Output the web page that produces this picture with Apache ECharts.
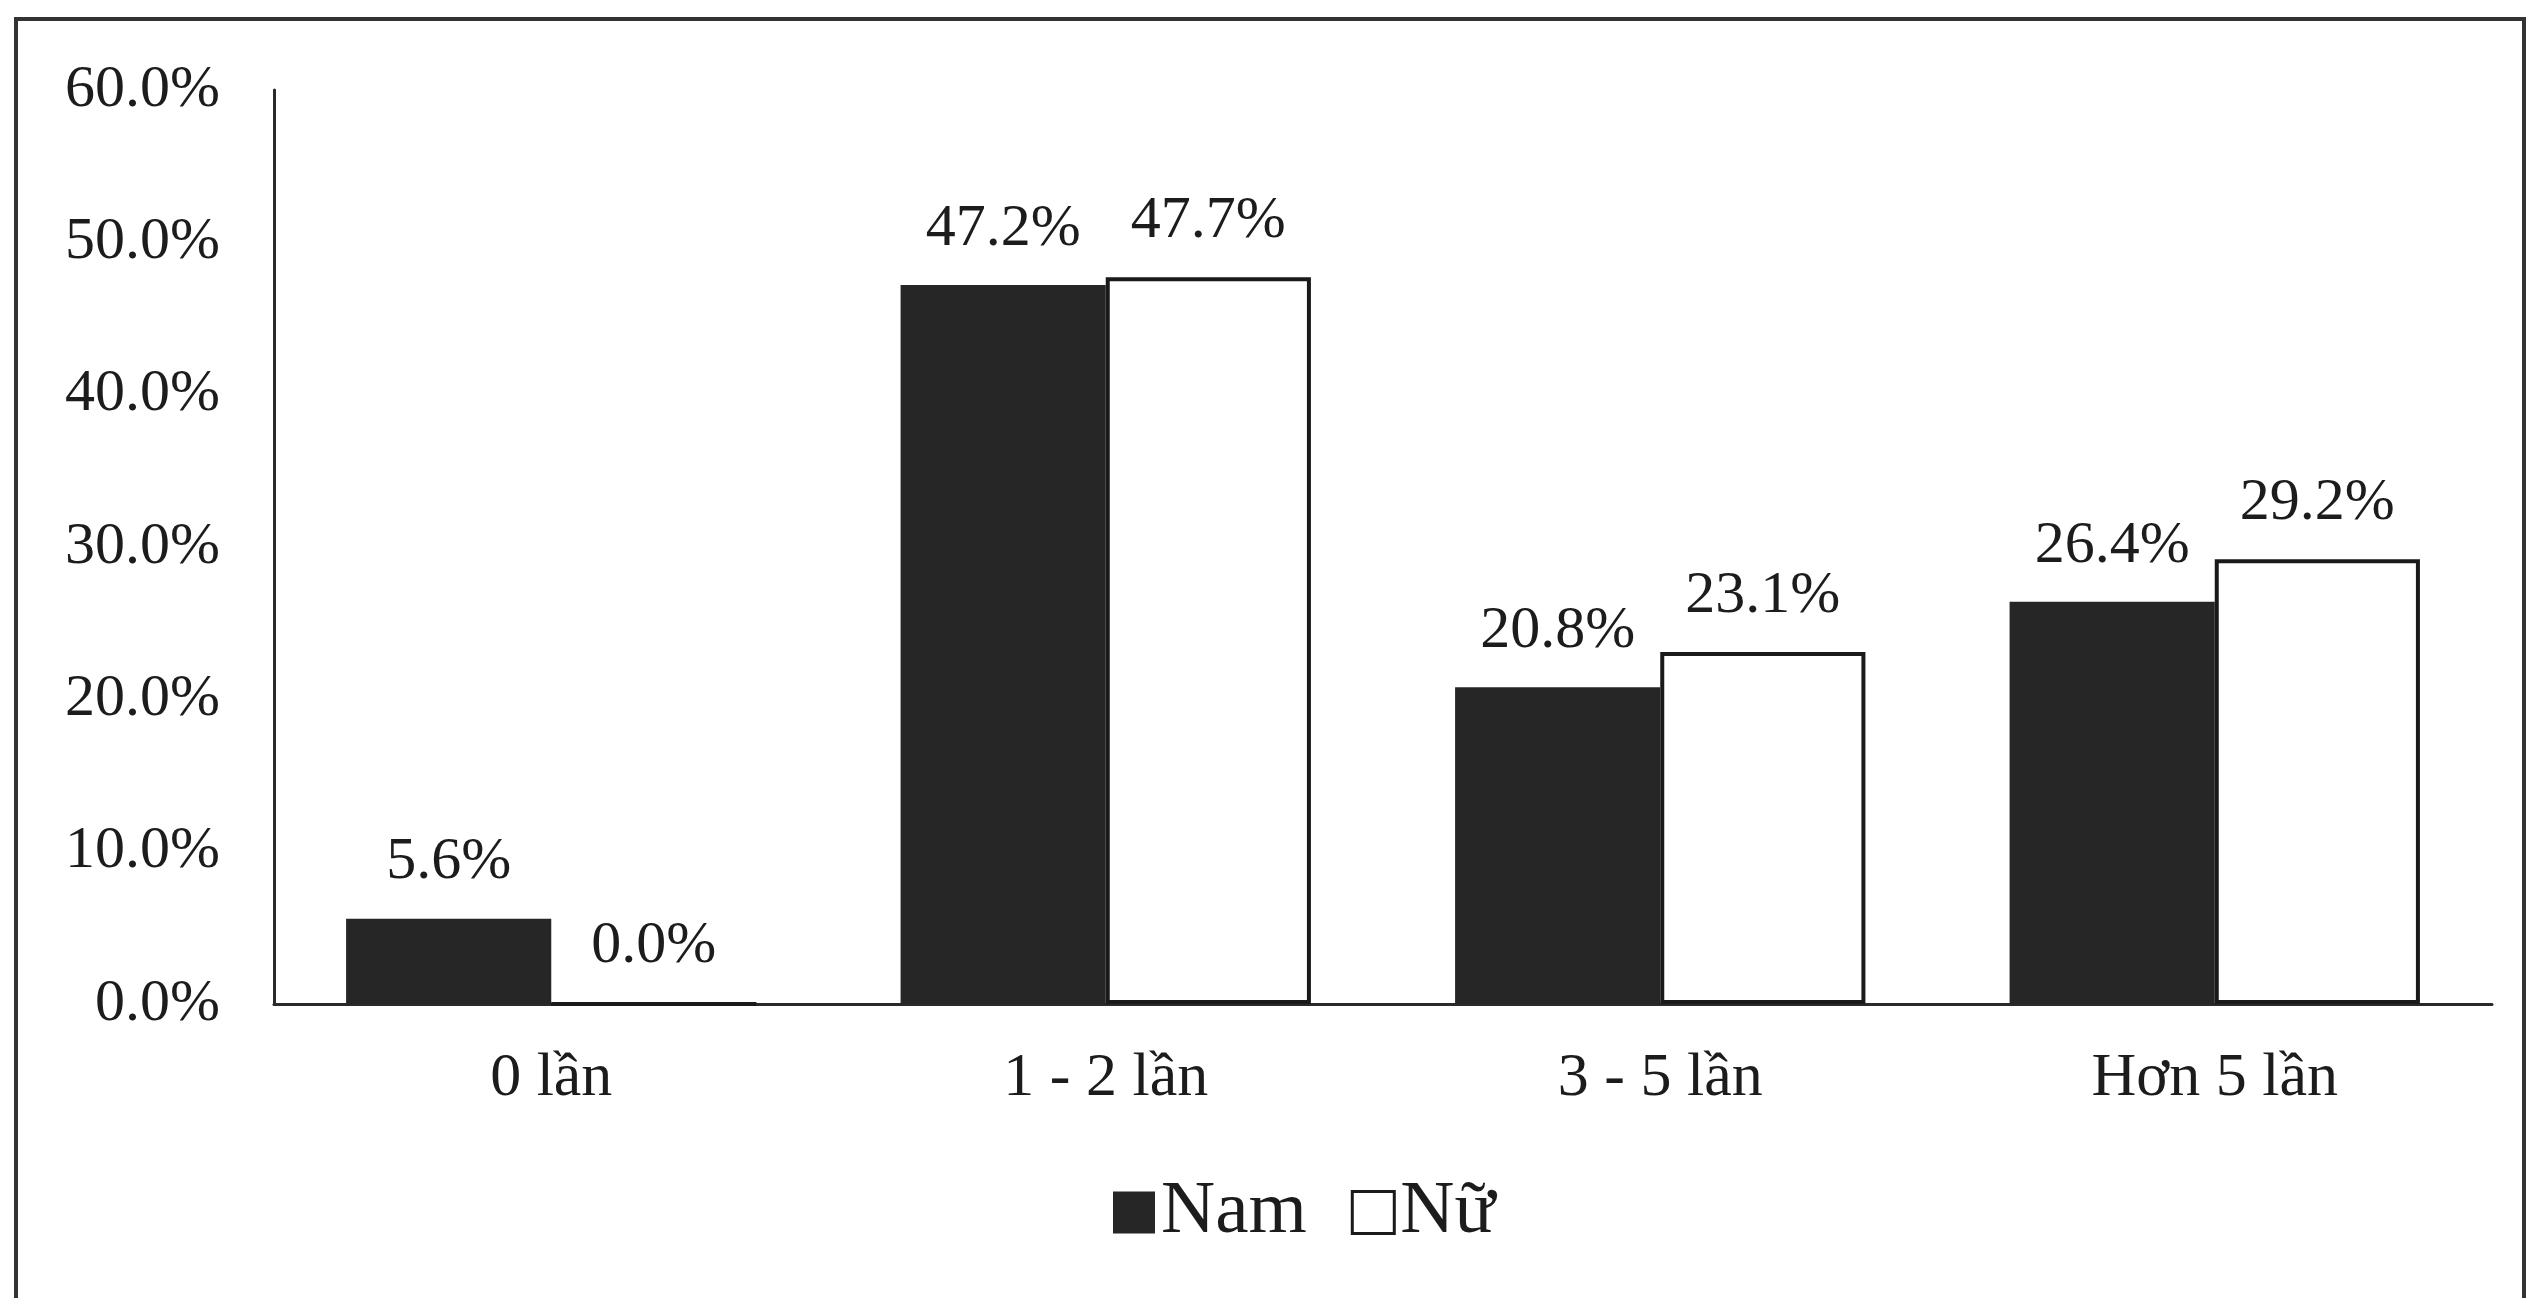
<!DOCTYPE html>
<html>
<head>
<meta charset="utf-8">
<script src="https://cdn.jsdelivr.net/npm/echarts@6/dist/echarts.min.js"></script>
<style>
html,body{margin:0;padding:0;background:#fff;}
#c{width:2540px;height:1298px;}
</style>
</head>
<body>
<div id="c"></div>
<script>
const categories = ['0 lần', '1 - 2 lần', '3 - 5 lần', 'Hơn 5 lần'];
const namValues = [5.6, 47.2, 20.8, 26.4];
const nuValues = [0.0, 47.7, 23.1, 29.2];
const seriesNames = ['Nam', 'Nữ'];
const yTicks = [0, 10, 20, 30, 40, 50, 60];

const FONT = 'Liberation Serif';
const TXT = '#1c1c1c';
const chart = echarts.init(document.getElementById('c'));
const pct = v => Number(v).toFixed(1) + '%';

chart.setOption({
  backgroundColor: '#fff',
  animation: false,
  textStyle: { fontFamily: FONT, color: TXT },
  graphic: [{
    type: 'rect',
    shape: { x: 16, y: 19, width: 2508, height: 1300 },
    style: { fill: 'none', stroke: '#333', lineWidth: 4 },
    silent: true
  }],
  grid: { left: 274, right: 48, top: 90, bottom: 294, containLabel: false },
  legend: {
    data: [
      { name: seriesNames[0], icon: 'rect', itemStyle: { color: '#262626', borderColor: '#262626', borderWidth: 0 } },
      { name: seriesNames[1], icon: 'rect', itemStyle: { color: '#fff', borderColor: '#1a1a1a', borderWidth: 3 } }
    ],
    left: 1108,
    top: 1170,
    itemWidth: 42,
    itemHeight: 42,
    itemGap: 44,
    textStyle: { fontFamily: FONT, fontSize: 75, color: TXT, padding: [0, 0, 0, 1] }
  },
  xAxis: {
    type: 'category',
    data: categories,
    axisLine: { show: true, lineStyle: { color: '#2a2a2a', width: 3 } },
    axisTick: { show: false },
    axisLabel: { fontFamily: FONT, fontSize: 62, color: TXT, margin: 44 },
    splitLine: { show: false }
  },
  yAxis: {
    type: 'value',
    min: yTicks[0],
    max: yTicks[yTicks.length - 1],
    interval: 10,
    axisLine: { show: true, lineStyle: { color: '#2a2a2a', width: 3 } },
    axisTick: { show: false },
    splitLine: { show: false },
    axisLabel: { fontFamily: FONT, fontSize: 60, color: TXT, margin: 54, formatter: v => pct(v) }
  },
  series: [
    {
      name: seriesNames[0],
      type: 'bar',
      data: namValues,
      barGap: '0%',
      barCategoryGap: '26%',
      itemStyle: { color: '#262626', borderColor: '#262626', borderWidth: 0 },
      label: { show: true, position: 'top', distance: 26, fontFamily: FONT, fontSize: 60, color: TXT, formatter: p => pct(p.value) }
    },
    {
      name: seriesNames[1],
      type: 'bar',
      data: nuValues,
      itemStyle: { color: '#fff', borderColor: '#1a1a1a', borderWidth: 4 },
      label: { show: true, position: 'top', distance: 26, fontFamily: FONT, fontSize: 60, color: TXT, formatter: p => pct(p.value) }
    }
  ]
});
</script>
</body>
</html>
